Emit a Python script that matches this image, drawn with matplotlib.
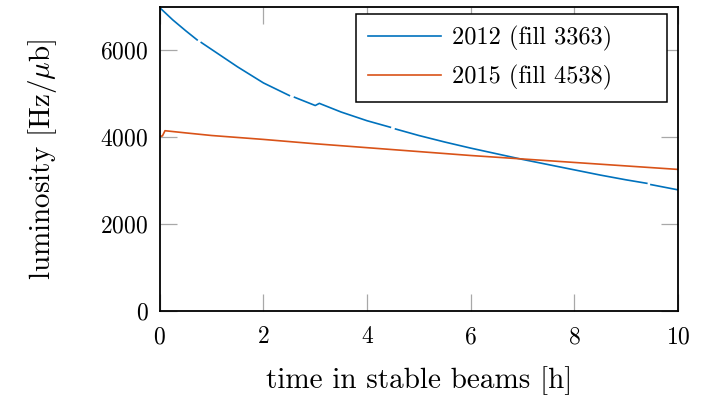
import numpy as np
import matplotlib.pyplot as plt

plt.rcParams['font.family'] = 'serif'
plt.rcParams['font.serif'] = ['cmr10']
plt.rcParams['mathtext.fontset'] = 'cm'
plt.rcParams['axes.unicode_minus'] = False
plt.rcParams['axes.formatter.use_mathtext'] = True

# hours in stable beams vs luminosity (Hz/ub)
t_2012 = [0.0, 0.25, 0.5, 0.72, np.nan, 0.8, 1.0, 1.5, 2.0, 2.5, np.nan, 2.6, 3.0, 3.08, 3.12,
          3.5, 4.0, 4.45, np.nan, 4.55, 5.0, 5.5, 6.0, 6.5, 7.0, 7.5, 8.0, 8.5, 9.0, 9.4, np.nan,
          9.48, 10.0]
lumi_2012 = [6980, 6700, 6450, 6240, np.nan, 6180, 6020, 5620, 5250, 4960, np.nan, 4920, 4730, 4780, 4760,
             4580, 4380, 4230, np.nan, 4190, 4040, 3890, 3750, 3620, 3490, 3370, 3250, 3130, 3020, 2940, np.nan,
             2910, 2790]

t_2015 = [0.0, 0.05, 0.1, 0.5, 1.0, 2.0, 3.0, 4.0, 5.0, 6.0, 7.0, 8.0, 9.0, 10.0]
lumi_2015 = [4020, 4030, 4150, 4100, 4040, 3950, 3850, 3760, 3670, 3580, 3500, 3420, 3340, 3260]

xticks = [0, 2, 4, 6, 8, 10]
yticks = [0, 2000, 4000, 6000]

fig = plt.figure(figsize=(7.01, 4.04), dpi=100)
ax = fig.add_axes([0.228, 0.230, 0.739, 0.753])

ax.plot(t_2012, lumi_2012, color='#0072BD', lw=1.2, label='2012 (fill 3363)')
ax.plot(t_2015, lumi_2015, color='#D95319', lw=1.2, label='2015 (fill 4538)')

ax.set_xlim(0, 10)
ax.set_ylim(0, 7000)
ax.set_xticks(xticks)
ax.set_yticks(yticks)
ax.tick_params(direction='in', length=12, width=0.9, color='#a8a8a8',
               top=True, right=True, labelsize=17)
ax.tick_params(axis='x', pad=11)
ax.tick_params(axis='y', pad=8)
for s in ax.spines.values():
    s.set_linewidth(1.3)

ax.set_xlabel('time in stable beams [h]', fontsize=21, labelpad=13)
ax.set_ylabel(r'luminosity [Hz/$\mu$b]', fontsize=21, labelpad=30)

leg = ax.legend(loc='upper left', fontsize=17.5, fancybox=False, framealpha=1,
                edgecolor='black', handlelength=3.0, handletextpad=0.45,
                borderpad=0.5, labelspacing=0.55, borderaxespad=0,
                mode='expand', bbox_to_anchor=(0.378, 0.694, 0.601, 0.283))
leg.get_frame().set_linewidth(1.1)

fig.savefig('out.png', dpi=100)
